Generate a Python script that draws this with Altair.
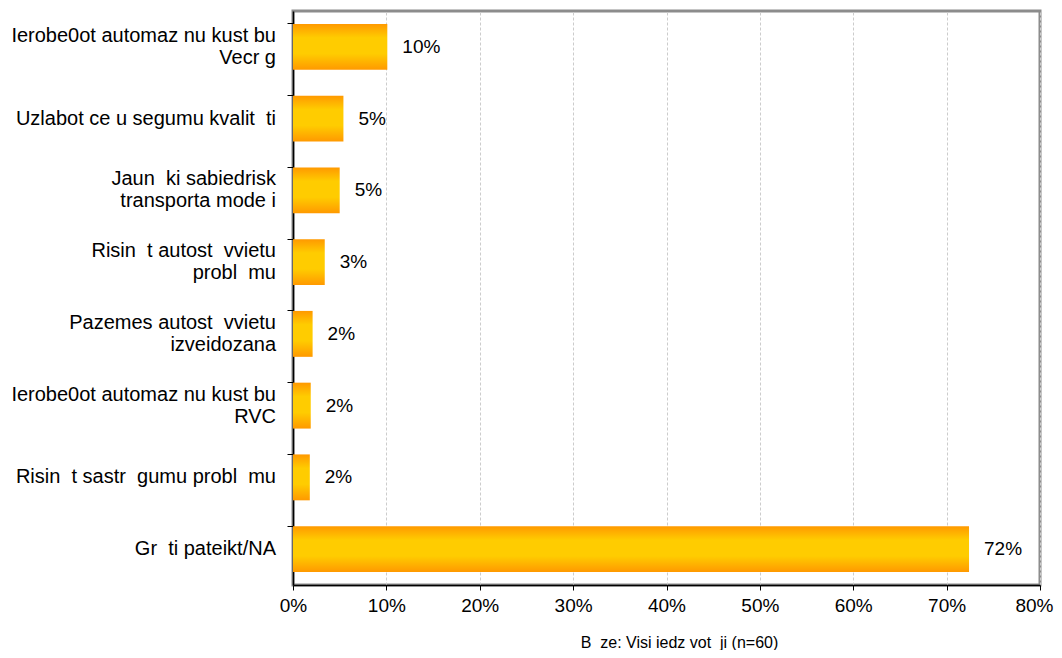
import altair as alt
import pandas as pd

NB = "\u00a0"
categories = [
    "Ierobe0ot automaz nu kust bu\nVecr" + NB + "g",
    "Uzlabot ce u segumu kvalit " + NB + "ti",
    "Jaun " + NB + "ki sabiedrisk" + NB + "\ntransporta mode" + NB + "i",
    "Risin " + NB + "t autost " + NB + "vvietu\nprobl " + NB + "mu",
    "Pazemes autost " + NB + "vvietu\nizveidozana",
    "Ierobe0ot automaz nu kust bu\nRVC",
    "Risin " + NB + "t sastr " + NB + "gumu probl " + NB + "mu",
    "Gr " + NB + "ti pateikt/NA",
]
values = [0.101, 0.054, 0.050, 0.034, 0.021, 0.019, 0.018, 0.724]
x_ticks = [0, 0.1, 0.2, 0.3, 0.4, 0.5, 0.6, 0.7, 0.8]
footer = "B " + NB + "ze: Visi iedz vot " + NB + "ji (n=60)"

FONT = "Liberation Sans"

df = pd.DataFrame({"cat": categories, "val": values})

grad = alt.Gradient(
    gradient="linear",
    stops=[
        alt.GradientStop(offset=0, color="#FF9900"),
        alt.GradientStop(offset=0.3, color="#FFCC00"),
        alt.GradientStop(offset=0.65, color="#FFCC00"),
        alt.GradientStop(offset=1, color="#FF9900"),
    ],
    x1=0, x2=0, y1=0, y2=1,
)

y_scale = alt.Scale(paddingInner=0.36, paddingOuter=0.18)

y_enc = alt.Y(
    "cat:N",
    sort=categories,
    scale=y_scale,
    axis=alt.Axis(
        title=None,
        labels=False,
        tickSize=6,
        tickColor="#000000",
        bandPosition=0,
        domainColor="#000000",
        domainWidth=1.5,
        grid=False,
    ),
)

x_enc = alt.X(
    "val:Q",
    scale=alt.Scale(domain=[0, 0.8], nice=False),
    axis=alt.Axis(
        values=x_ticks,
        format=".0%",
        title=footer,
        titleFont=FONT,
        titleFontSize=16,
        titleFontWeight="normal",
        titleColor="#000000",
        titleX=386,
        titleY=57,
        titleAlign="center",
        titleBaseline="middle",
        labelFont=FONT,
        labelFontSize=19,
        labelColor="#000000",
        labelPadding=6,
        labelFlush=False,
        labelOverlap=False,
        labelAlign={"condition": {"test": "datum.value >= 0.79", "value": "right"}, "value": "center"},
        labelOffset={"condition": {"test": "datum.value >= 0.79", "value": 13}, "value": 0},
        tickSize=5,
        tickColor="#000000",
        domainColor="#000000",
        domainWidth=1.5,
        grid=True,
        gridColor="#cccccc",
        gridDash=[3, 2],
        gridWidth=1,
    ),
)

base = alt.Chart(df)

bars = base.mark_bar(color=grad).encode(x=x_enc, y=y_enc)

value_labels = base.mark_text(
    align="left", baseline="middle", dx=15, font=FONT, fontSize=19, color="#000000"
).encode(
    x=alt.X("val:Q"),
    y=alt.Y("cat:N", sort=categories),
    text=alt.Text("val:Q", format=".0%"),
)

lab = base.transform_calculate(
    parts="split(datum.cat, '\\n')"
).transform_calculate(
    line1="datum.parts[0]",
    line2="length(datum.parts) > 1 ? datum.parts[1] : ''",
    nlines="length(datum.parts)",
)

text_kw = dict(align="right", baseline="middle", font=FONT, fontSize=20, color="#000000")

single = lab.transform_filter("datum.nlines == 1").mark_text(**text_kw).encode(
    x=alt.value(-17), y=alt.Y("cat:N", sort=categories), text="line1:N"
)
first = lab.transform_filter("datum.nlines == 2").mark_text(dy=-11, **text_kw).encode(
    x=alt.value(-17), y=alt.Y("cat:N", sort=categories), text="line1:N"
)
second = lab.transform_filter("datum.nlines == 2").mark_text(dy=11, **text_kw).encode(
    x=alt.value(-17), y=alt.Y("cat:N", sort=categories), text="line2:N"
)

chart = (
    alt.layer(bars, value_labels, single, first, second)
    .properties(
        width=747,
        height=574,
        background="#ffffff",
        autosize=alt.AutoSizeParams(type="none"),
        padding={"left": 285, "top": 3, "right": 14, "bottom": 65},
    )
    .configure_view(stroke="#8c8c8c", strokeWidth=3)
)

chart.save("out.html", embed_options={"renderer": "svg", "actions": False})
